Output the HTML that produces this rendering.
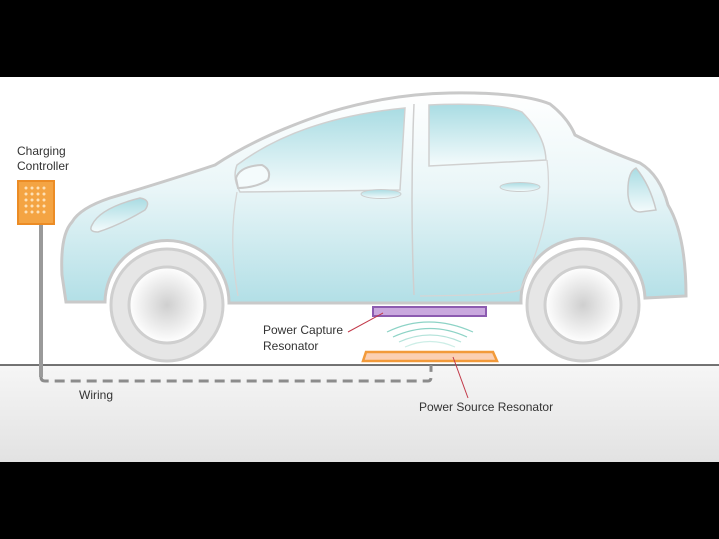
<!DOCTYPE html>
<html><head><meta charset="utf-8"><style>
html,body{margin:0;padding:0;background:#000;}
svg{display:block;}
text{font-family:"Liberation Sans",sans-serif;font-size:12px;fill:#333;}
</style></head><body>
<svg width="719" height="539" viewBox="0 0 719 539" xmlns="http://www.w3.org/2000/svg">
<defs>
<linearGradient id="body" x1="0" y1="0" x2="0" y2="1">
<stop offset="0" stop-color="#ffffff"/><stop offset="0.45" stop-color="#eaf6f8"/><stop offset="1" stop-color="#b2dfe6"/>
</linearGradient>
<linearGradient id="win" x1="0" y1="0" x2="0" y2="1">
<stop offset="0" stop-color="#a9dce3"/><stop offset="1" stop-color="#f4fbfc"/>
</linearGradient>
<linearGradient id="ground" x1="0" y1="0" x2="0" y2="1">
<stop offset="0" stop-color="#f6f6f6"/><stop offset="1" stop-color="#e2e2e2"/>
</linearGradient>
<radialGradient id="hub"><stop offset="0" stop-color="#cfcfcf"/><stop offset="1" stop-color="#ffffff"/></radialGradient>
</defs>
<rect x="0" y="0" width="719" height="539" fill="#000"/>
<rect x="0" y="77" width="719" height="385" fill="#fff"/>
<rect x="0" y="365" width="719" height="97" fill="url(#ground)"/>
<line x1="0" y1="365" x2="719" y2="365" stroke="#222" stroke-width="1.3"/>

<!-- car body -->
<path d="M66,302 L62,275 Q60,235 72,222 Q80,208 110,198 Q170,180 215,165 Q260,135 330,112 Q390,94 450,93 Q520,92 550,104 Q568,118 575,135 Q600,148 640,163 Q660,175 668,205 Q686,235 686,296 L645,298 A62,62 0 0 0 521,303 L229,303 A62,62 0 0 0 105,302 Z" fill="url(#body)" stroke="#c9c9c9" stroke-width="3"/>
<!-- windows -->
<path d="M237,165 Q300,118 405,108 L400,190 L240,192 Q232,178 237,165 Z" fill="url(#win)" stroke="#d0d0d0" stroke-width="1.5"/>
<path d="M429,105 Q500,102 522,112 Q545,135 546,160 L429,166 Z" fill="url(#win)" stroke="#d0d0d0" stroke-width="1.5"/>
<!-- door lines -->
<path d="M414,104 Q410,200 414,295" fill="none" stroke="#cfcfcf" stroke-width="1.5"/>
<path d="M547,160 Q555,220 520,290 Q510,295 420,296" fill="none" stroke="#d5d5d5" stroke-width="1.3"/>
<path d="M237,192 Q228,240 238,296" fill="none" stroke="#d5d5d5" stroke-width="1.3"/>
<!-- mirror -->
<path d="M236,178 Q240,166 262,165 Q272,170 268,180 Q255,188 238,188 Z" fill="#f4fbfc" stroke="#c9c9c9" stroke-width="2"/>
<!-- handles -->
<ellipse cx="381" cy="194" rx="20" ry="4.5" fill="url(#win)" stroke="#ccc" stroke-width="1"/>
<ellipse cx="520" cy="187" rx="20" ry="4.5" fill="url(#win)" stroke="#ccc" stroke-width="1"/>
<!-- headlight -->
<path d="M92,225 Q100,208 140,198 Q152,200 145,210 Q120,225 98,232 Q88,232 92,225 Z" fill="url(#win)" stroke="#c9c9c9" stroke-width="1.5"/>
<!-- taillight -->
<path d="M636,168 Q627,172 628,195 Q630,212 640,212 L656,210 Q650,185 636,168 Z" fill="url(#win)" stroke="#c9c9c9" stroke-width="1.5"/>
<!-- wheels -->
<circle cx="167" cy="305" r="56" fill="#e6e6e6" stroke="#cfcfcf" stroke-width="3"/>
<circle cx="167" cy="305" r="38" fill="url(#hub)" stroke="#cfcfcf" stroke-width="3"/>
<circle cx="583" cy="305" r="56" fill="#e6e6e6" stroke="#cfcfcf" stroke-width="3"/>
<circle cx="583" cy="305" r="38" fill="url(#hub)" stroke="#cfcfcf" stroke-width="3"/>

<!-- controller -->
<rect x="39" y="225" width="4" height="152" fill="#9a9a9a"/>
<path d="M41,377 Q41,381 45,381 L428,381 Q431,381 431,377 L431,365" fill="none" stroke="#8c8c8c" stroke-width="3" stroke-dasharray="10,6"/>
<rect x="18" y="181" width="36" height="43" fill="#f4a443" stroke="#ec8c25" stroke-width="2"/>
<g fill="#fde1b7">
<circle cx="26" cy="188" r="1.5"/><circle cx="32" cy="188" r="1.5"/><circle cx="38" cy="188" r="1.5"/><circle cx="44" cy="188" r="1.5"/>
<circle cx="26" cy="194" r="1.5"/><circle cx="32" cy="194" r="1.5"/><circle cx="38" cy="194" r="1.5"/><circle cx="44" cy="194" r="1.5"/>
<circle cx="26" cy="200" r="1.5"/><circle cx="32" cy="200" r="1.5"/><circle cx="38" cy="200" r="1.5"/><circle cx="44" cy="200" r="1.5"/>
<circle cx="26" cy="206" r="1.5"/><circle cx="32" cy="206" r="1.5"/><circle cx="38" cy="206" r="1.5"/><circle cx="44" cy="206" r="1.5"/>
<circle cx="26" cy="212" r="1.5"/><circle cx="32" cy="212" r="1.5"/><circle cx="38" cy="212" r="1.5"/><circle cx="44" cy="212" r="1.5"/>
</g>
<text x="17" y="155">Charging</text>
<text x="17" y="170">Controller</text>
<text x="79" y="399">Wiring</text>

<!-- resonators -->
<rect x="373" y="307" width="113" height="9" fill="#c9a8de" stroke="#8c5bb0" stroke-width="2"/>
<path d="M363,361 L366,352 L493,352 L497,361 Z" fill="#fbcfb2" stroke="#f29a3a" stroke-width="2.5"/>
<g fill="none" stroke="#8dd3c6" stroke-width="1.2">
<path d="M387,332 Q428,312 473,332"/>
<path d="M393,337 Q430,320 467,337"/>
<path d="M399,342 Q430,328 461,342" stroke="#b4e3da"/>
<path d="M405,347 Q430,336 455,347" stroke="#cdeee7"/>
</g>
<line x1="348" y1="332" x2="383" y2="313" stroke="#c23a4a" stroke-width="1"/>
<line x1="453" y1="357" x2="468" y2="398" stroke="#c23a4a" stroke-width="1"/>
<text x="263" y="334">Power Capture</text>
<text x="263" y="350">Resonator</text>
<text x="419" y="411">Power Source Resonator</text>
</svg>
</body></html>
